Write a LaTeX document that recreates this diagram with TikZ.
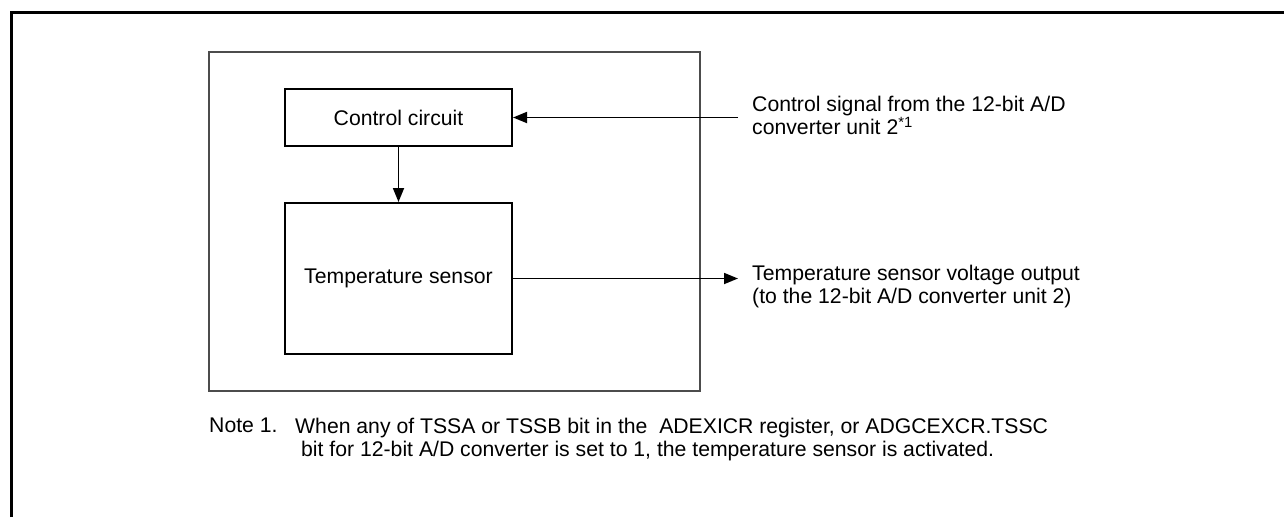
\documentclass[tikz,border=0pt]{standalone}
\usepackage{fontspec}
\setmainfont{Liberation Sans}
\usetikzlibrary{arrows.meta}
\begin{document}
\begin{tikzpicture}[x=1pt,y=-1pt,
  every node/.style={font=\fontsize{21.2}{23}\selectfont},
  blockbox/.style={draw=black,line width=2pt,inner sep=0pt},
  arr/.style={line width=1.8pt,-{Triangle[length=14pt,width=11pt]}},
  label/.style={anchor=north west,inner sep=0pt,align=left}]
\useasboundingbox (0,0) rectangle (1284,517);
% outer frame (top and left edges)
\draw[line width=3pt] (11,517) -- (11,12) -- (1284,12);
% module frame
\draw[black!70,line width=1.3pt] (209,52) rectangle (700,391);
% blocks
\node[blockbox,minimum width=227pt,minimum height=57pt] (ctrl) at (398.5,117.5) {Control circuit};
\node[blockbox,minimum width=227pt,minimum height=151pt] (temp) at (398.5,278.5) {Temperature sensor};
% connectors
\coordinate (csrc) at (738,117.5);
\coordinate (tout) at (738,278.5);
\draw[arr] (ctrl.south) -- (temp.north);
\draw[arr] (csrc) -- (ctrl.east);
\draw[arr] (temp.east) -- (tout);
% labels
\node[label] (clab) at (752,96) {Control signal from the 12-bit A/D\\converter unit 2\textsuperscript{*1}};
\node[label] (tlab) at (752,265) {Temperature sensor voltage output\\(to the 12-bit A/D converter unit 2)};
% note
\node[label] (nhead) at (209,418) {Note 1.};
\node[label] (ntext) at (295,418) {When any of TSSA or TSSB bit in the \ ADEXICR register, or ADGCEXCR.TSSC\\\hspace{6pt}bit for 12-bit A/D converter is set to 1, the temperature sensor is activated.};
\end{tikzpicture}
\end{document}
